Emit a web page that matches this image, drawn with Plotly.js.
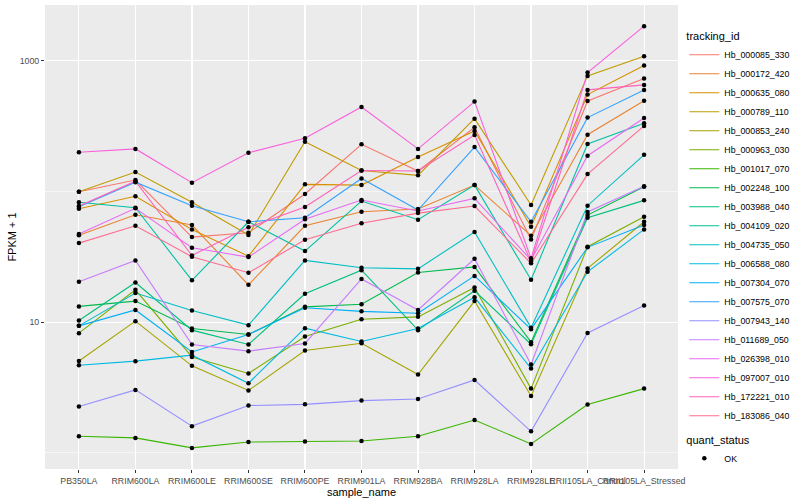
<!DOCTYPE html>
<html><head><meta charset="utf-8">
<script src="https://cdn.plot.ly/plotly-3.0.1.min.js"></script>
<style>html,body{margin:0;padding:0;background:#fff}</style>
</head><body>
<div id="chart" style="width:800px;height:500px"></div>
<script>
const samples = ["PB350LA","RRIM600LA","RRIM600LE","RRIM600SE","RRIM600PE","RRIM901LA","RRIM928BA","RRIM928LA","RRIM928LE","RRII105LA_Control","RRII105LA_Stressed"];

const trackingIds = ["Hb_000085_330","Hb_000172_420","Hb_000635_080","Hb_000789_110","Hb_000853_240","Hb_000963_030","Hb_001017_070","Hb_002248_100","Hb_003988_040","Hb_004109_020","Hb_004735_050","Hb_006588_080","Hb_007304_070","Hb_007575_070","Hb_007943_140","Hb_011689_050","Hb_026398_010","Hb_097007_010","Hb_172221_010","Hb_183086_040"];

const seriesColors = ["#F8766D","#EA8331","#D89000","#C09B00","#A3A500","#7CAE00","#39B600","#00BB4E","#00BF7D","#00C1A3","#00BFC4","#00BAE0","#00B0F6","#35A2FF","#9590FF","#C77CFF","#E76BF3","#FA62DB","#FF62BC","#FF6C91"];

// FPKM + 1 values, one array per tracking_id, in sample order
const Hb_000085_330 = [99.7, 122.5, 44.8, 48.3, 95.7, 230, 143.6, 310, 43, 494, 732];
const Hb_000172_420 = [46.2, 66.4, 55.4, 19.3, 54.7, 70, 73.5, 112, 45.9, 272, 496];
const Hb_000635_080 = [73.8, 91.9, 51.3, 32, 113.5, 112, 184, 291, 53.7, 552, 921];
const Hb_000789_110 = [99.7, 141, 82.7, 46.4, 241, 145, 133, 361, 78.8, 768, 1086];
const Hb_000853_240 = [5.05, 10.18, 4.63, 3.0, 6.07, 6.9, 3.97, 14.5, 2.72, 25.8, 58.7];
const Hb_000963_030 = [8.24, 17.7, 5.42, 4.05, 7.77, 10.54, 10.98, 18.4, 3.1, 37.8, 64.1];
const Hb_001017_070 = [1.34, 1.30, 1.09, 1.21, 1.22, 1.23, 1.34, 1.78, 1.17, 2.34, 3.1];
const Hb_002248_100 = [13.2, 14.5, 8.95, 8.05, 13.1, 13.7, 24.0, 26.5, 7.03, 66.1, 108.8];
const Hb_003988_040 = [10.3, 20.1, 8.69, 6.75, 16.5, 25.0, 8.69, 17.4, 6.78, 63.0, 85.6];
const Hb_004109_020 = [82.7, 75.2, 20.9, 58.7, 35.0, 84.6, 60.8, 112, 21.1, 231, 333];
const Hb_004735_050 = [9.37, 16.7, 12.3, 9.49, 29.7, 26.1, 25.6, 49.0, 9.08, 77.9, 191];
const Hb_006588_080 = [4.68, 5.03, 5.59, 3.41, 9.0, 7.12, 8.95, 15.5, 4.42, 24.3, 51.3];
const Hb_007304_070 = [9.37, 12.4, 5.92, 8.05, 12.9, 12.1, 11.7, 22.6, 8.84, 37.4, 55.4];
const Hb_007575_070 = [76.5, 118, 77.9, 58.7, 63.0, 126, 72.2, 219, 58.7, 368, 600];
const Hb_007943_140 = [2.26, 3.03, 1.60, 2.30, 2.35, 2.51, 2.58, 3.61, 1.46, 8.28, 13.4];
const Hb_011689_050 = [20.4, 29.7, 6.75, 6.00, 6.87, 21.4, 12.4, 30.6, 4.74, 69.7, 110];
const Hb_026398_010 = [47.3, 74.4, 37.1, 31.5, 61.3, 86.1, 70.9, 88.7, 29.9, 188, 366];
const Hb_097007_010 = [200, 212, 117, 198, 256, 444, 212, 488, 30.8, 814, 1844];
const Hb_172221_010 = [77.4, 120, 32.4, 53.2, 76.1, 145, 143.6, 271, 29.0, 600, 655];
const Hb_183086_040 = [40.3, 54.7, 31.7, 23.9, 42.7, 57.1, 68.4, 77.4, 28.2, 136, 318];

const seriesValues = [Hb_000085_330, Hb_000172_420, Hb_000635_080, Hb_000789_110, Hb_000853_240, Hb_000963_030, Hb_001017_070, Hb_002248_100, Hb_003988_040, Hb_004109_020, Hb_004735_050, Hb_006588_080, Hb_007304_070, Hb_007575_070, Hb_007943_140, Hb_011689_050, Hb_026398_010, Hb_097007_010, Hb_172221_010, Hb_183086_040];

const quantStatus = ["OK"];
const yTickVals = [10, 1000];
const yTickText = ["10", "1000"];
const yMinorVals = [1, 100];

const FONT = "Liberation Sans, Arial, Helvetica, sans-serif";

const traces = trackingIds.map((id, i) => ({
  type: "scatter", mode: "lines", name: id,
  x: samples, y: seriesValues[i],
  line: {color: seriesColors[i], width: 1.1},
  legend: "legend", hoverinfo: "skip"
}));

const px = [], py = [];
seriesValues.forEach(v => v.forEach((val, j) => { px.push(samples[j]); py.push(val); }));
traces.push({
  type: "scatter", mode: "markers", name: quantStatus[0],
  x: px, y: py,
  marker: {color: "black", size: 4.5, symbol: "circle"},
  legend: "legend2", hoverinfo: "skip"
});

const layout = {
  width: 800, height: 500,
  margin: {l: 45, r: 116, t: 5, b: 31, pad: 0},
  paper_bgcolor: "white", plot_bgcolor: "#EBEBEB",
  font: {family: FONT, size: 9, color: "#4D4D4D"},
  showlegend: true,
  xaxis: {
    type: "category", range: [-0.6, 10.6], autorange: false,
    showgrid: true, gridcolor: "white", gridwidth: 1.1,
    ticks: "outside", ticklen: 3, tickwidth: 1, tickcolor: "#333333",
    tickangle: 0, tickfont: {family: FONT, size: 8.8, color: "#4D4D4D"},
    zeroline: false, showline: false, automargin: false,
    title: {text: "sample_name", font: {family: FONT, size: 11, color: "black"}, standoff: 0}
  },
  yaxis: {
    type: "log", range: [-0.124, 3.428], autorange: false,
    tickmode: "array", tickvals: yTickVals, ticktext: yTickText,
    showgrid: true, gridcolor: "white", gridwidth: 1.1,
    minor: {tickmode: "array", tickvals: yMinorVals, showgrid: true, gridcolor: "white", gridwidth: 0.55, ticks: ""},
    ticks: "outside", ticklen: 3, tickwidth: 1, tickcolor: "#333333",
    tickfont: {family: FONT, size: 8.8, color: "#4D4D4D"},
    zeroline: false, showline: false, automargin: false,
    title: {text: "FPKM + 1", font: {family: FONT, size: 11, color: "black"}, standoff: 0}
  },
  legend: {
    x: 1.01, xanchor: "left", y: 0.955, yanchor: "top",
    bgcolor: "rgba(0,0,0,0)", itemwidth: 30, tracegroupgap: 0,
    font: {family: FONT, size: 8.8, color: "black"},
    title: {text: "tracking_id", font: {family: FONT, size: 11, color: "black"}}
  },
  legend2: {
    x: 1.01, xanchor: "left", y: 0.085, yanchor: "top",
    bgcolor: "rgba(0,0,0,0)", itemwidth: 30,
    font: {family: FONT, size: 8.8, color: "black"},
    title: {text: "quant_status", font: {family: FONT, size: 11, color: "black"}}
  }
};

Plotly.newPlot("chart", traces, layout, {displayModeBar: false, staticPlot: true});
</script>
</body></html>
